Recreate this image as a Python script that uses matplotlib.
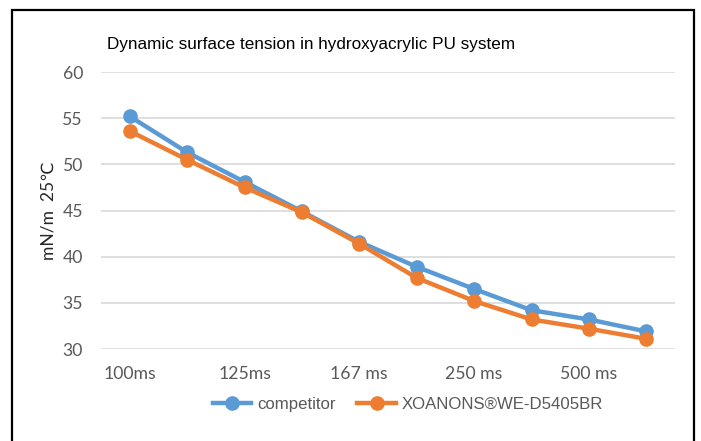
import matplotlib
matplotlib.use("Agg")
import matplotlib.pyplot as plt
from matplotlib.patches import Rectangle
from matplotlib.lines import Line2D

categories = ["100ms", "", "125ms", "", "167 ms", "", "250 ms", "", "500 ms", ""]
competitor = [55.2, 51.3, 48.1, 44.9, 41.6, 38.9, 36.5, 34.2, 33.2, 31.9]
xoanons = [53.6, 50.5, 47.5, 44.8, 41.4, 37.7, 35.2, 33.2, 32.2, 31.1]
yticks = [30, 35, 40, 45, 50, 55, 60]
title = "Dynamic surface tension in hydroxyacrylic PU system"
ylabel = "mN/m  25\u2103"
series_names = ["competitor", "XOANONS\u00aeWE-D5405BR"]

W, H = 701, 441
fig = plt.figure(figsize=(W / 100, H / 100), dpi=100)
fig.patch.set_facecolor("white")

ax = fig.add_axes([101 / W, 1 - 349 / H, (675 - 101) / W, (349 - 72) / H])
x = list(range(len(categories)))
blue = "#5B9BD5"
orange = "#ED7D31"
ax.plot(x, competitor, color=blue, lw=3.2, marker="o", ms=9.5, label=series_names[0], zorder=3,
        solid_capstyle="round")
ax.plot(x, xoanons, color=orange, lw=3.2, marker="o", ms=9.5, label=series_names[1], zorder=4,
        solid_capstyle="round")

ax.set_xlim(-0.5, len(categories) - 0.5)
ax.set_ylim(30, 60)
ax.set_yticks(yticks)
ax.set_xticks(x)
ax.set_xticklabels(categories)
for s in ax.spines.values():
    s.set_visible(False)
ax.grid(axis="y", color="#D9D9D9", lw=1.2)
ax.set_axisbelow(True)
ax.tick_params(length=0, labelsize=12.7, labelcolor="#595959")
ax.tick_params(axis="y", pad=13)
ax.tick_params(axis="x", pad=12)
for lbl in ax.get_xticklabels() + ax.get_yticklabels():
    lbl.set_family(["Lato", "DejaVu Sans"])

fig.text(107 / W, 1 - 45 / H, title, fontsize=12.3, family=["Liberation Sans", "DejaVu Sans"],
         color="black", va="center", ha="left")
fig.text(48 / W, 1 - 211 / H, ylabel, fontsize=12.5, rotation=90, family=["Lato", "DejaVu Sans"],
         color="#262626", va="center", ha="center")

handles = [Line2D([], [], color=blue, lw=3.2, marker="o", ms=9.5),
           Line2D([], [], color=orange, lw=3.2, marker="o", ms=9.5)]
leg = fig.legend(handles, series_names, loc="center", bbox_to_anchor=(408 / W, 1 - 404 / H),
                 ncol=2, frameon=False, handlelength=2.3, columnspacing=1.3, handletextpad=0.35,
                 prop={"family": ["Liberation Sans", "DejaVu Sans"], "size": 12.1})
for t in leg.get_texts():
    t.set_color("#595959")

fig.patches.append(Rectangle((11.5 / W, -0.1), (694 - 11.5) / W, 1.1 - 10 / H,
                             transform=fig.transFigure, fill=False, ec="black", lw=1.6))

fig.savefig("out.png", dpi=100)
